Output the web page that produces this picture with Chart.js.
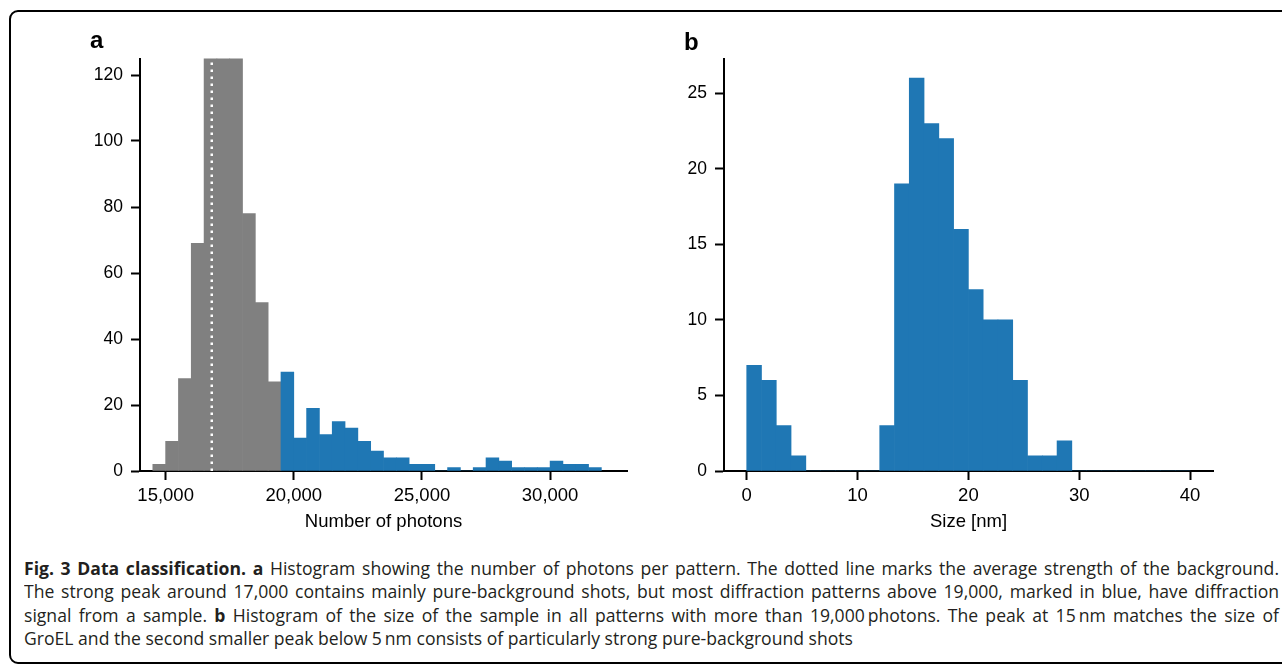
<!DOCTYPE html>
<html>
<head>
<meta charset="utf-8">
<script src="https://cdn.jsdelivr.net/npm/chart.js@4/dist/chart.umd.min.js"></script>
<style>
html,body{margin:0;padding:0;background:#fff;width:1282px;height:668px;overflow:hidden;position:relative;}
#frame{position:absolute;left:9px;top:10px;width:1300px;height:654px;border:2px solid #000;border-radius:9px;box-sizing:border-box;}
canvas.cv{position:absolute;}
.lbl{position:absolute;font:bold 24px "Liberation Sans",Arial,sans-serif;line-height:24px;color:#000;}
.line{position:absolute;left:24px;top:0;white-space:nowrap;font-family:"Open Sans","Noto Sans",sans-serif;color:#231f20;line-height:1;transform-origin:0 0;}
.line b{font-weight:700;}
.probe{display:inline-block;width:0;height:0;vertical-align:baseline;}
</style>
</head>
<body>
<div id="frame"></div>
<canvas id="chartA" class="cv" width="600" height="500" style="left:30px;top:40px;width:600px;height:500px;"></canvas>
<canvas id="chartB" class="cv" width="620" height="500" style="left:630px;top:40px;width:620px;height:500px;"></canvas>
<div class="lbl" style="left:90px;top:28px;">a</div>
<div class="lbl" style="left:684px;top:30px;">b</div>

<div class="line"><b>Fig. 3 Data classification. a</b> Histogram showing the number of photons per pattern. The dotted line marks the average strength of the background.<span class="probe"></span></div>
<div class="line">The strong peak around 17,000 contains mainly pure-background shots, but most diffraction patterns above 19,000, marked in blue, have diffraction<span class="probe"></span></div>
<div class="line">signal from a sample. <b>b</b> Histogram of the size of the sample in all patterns with more than 19,000&#8201;photons. The peak at 15&#8201;nm matches the size of<span class="probe"></span></div>
<div class="line">GroEL and the second smaller peak below 5&#8201;nm consists of particularly strong pure-background shots<span class="probe"></span></div>

<script>
// ---------- Data ----------
// Panel a: histogram of number of photons per pattern (bin left edges, width 500)
const photonBins = [14500, 15000, 15500, 16000, 16500, 17000, 17500, 18000, 18500, 19000,
                    19500, 20000, 20500, 21000, 21500, 22000, 22500, 23000, 23500, 24000,
                    24500, 25000, 25500, 26000, 26500, 27000, 27500, 28000, 28500, 29000,
                    29500, 30000, 30500, 31000, 31500];
const photonCounts = [2, 9, 28, 69, 152, 171, 139, 78, 51, 27,
                      30, 10, 19, 11, 15, 13, 9, 6, 4, 4,
                      2, 2, 0, 1, 0, 1, 4, 3, 1, 1,
                      1, 3, 2, 2, 1];
const photonBinWidth = 500;
const signalFrom = 19500;          // bins from here on are drawn in blue
const backgroundMean = 16800;      // dotted line
const photonTicks = [15000, 20000, 25000, 30000];
const photonCountTicks = [0, 20, 40, 60, 80, 100, 120];

// Panel b: histogram of sample size [nm] (30 bins over 0..40)
const sizeBins = [0, 1.3333, 2.6667, 4, 5.3333, 6.6667, 8, 9.3333, 10.6667, 12,
                  13.3333, 14.6667, 16, 17.3333, 18.6667, 20, 21.3333, 22.6667, 24, 25.3333,
                  26.6667, 28, 29.3333, 30.6667, 32, 33.3333, 34.6667, 36, 37.3333, 38.6667];
const sizeCounts = [7, 6, 3, 1, 0, 0, 0, 0, 0, 3,
                    19, 26, 23, 22, 16, 12, 10, 10, 6, 1,
                    1, 2, 0, 0, 0, 0, 0, 0, 0, 0];
const sizeBinWidth = 40 / 30;
const sizeTicks = [0, 10, 20, 30, 40];
const sizeCountTicks = [0, 5, 10, 15, 20, 25];

// ---------- Styling ----------
const GRAY = '#808080', BLUE = '#1f77b4';
const FONT = '"Liberation Sans", Arial, Helvetica, sans-serif';
Chart.defaults.font.family = FONT;
Chart.defaults.color = '#000';

function axis(opts) {
  return Object.assign({
    offset: false,
    grid: {display: true, drawOnChartArea: false, drawTicks: true, tickLength: 9,
           tickColor: '#000', tickWidth: 2, offset: false},
    border: {display: true, color: '#000', width: 2},
  }, opts);
}

function histChart(id, cfg) {
  return new Chart(document.getElementById(id), {
    type: 'bar',
    data: {datasets: cfg.datasets},
    options: {
      responsive: false, animation: false, devicePixelRatio: 1,
      layout: {padding: cfg.padding},
      plugins: {legend: {display: false}, tooltip: {enabled: false}},
      scales: {
        x: axis({
          type: 'linear', min: cfg.xMin, max: cfg.xMax,
          afterBuildTicks: s => { s.ticks = cfg.xTicks.map(v => ({value: v})); },
          afterFit: s => { s.height = cfg.xHeight; },
          ticks: {font: {size: 18.5}, color: '#000', padding: 5, maxRotation: 0, autoSkip: false,
                  callback: v => Number(v).toLocaleString('en-US')},
          title: {display: true, text: cfg.xTitle, font: {size: 18.5}, color: '#000',
                  padding: {top: 0, bottom: 7}}
        }),
        y: axis({
          type: 'linear', min: 0, max: cfg.yMax,
          afterBuildTicks: s => { s.ticks = cfg.yTicks.map(v => ({value: v})); },
          afterFit: s => { s.width = cfg.yWidth; },
          ticks: {font: {size: 17.5}, color: '#000', padding: 8, autoSkip: false}
        })
      }
    }
  });
}

histChart('chartA', {
  padding: {left: 0, top: 17, right: 3, bottom: 0},
  xMin: 14000, xMax: 33000, yMax: 125, xHeight: 69, yWidth: 110,
  xTicks: photonTicks, yTicks: photonCountTicks, xTitle: 'Number of photons',
  datasets: [
    {type: 'line', order: 0,
     data: [{x: backgroundMean, y: 0}, {x: backgroundMean, y: 125}],
     borderColor: '#fff', borderWidth: 2.5, borderDash: [2.5, 4.5], borderCapStyle: 'butt',
     pointRadius: 0, fill: false},
    {type: 'bar', order: 1,
     data: photonBins.map((b, i) => ({x: b + photonBinWidth / 2, y: photonCounts[i]})),
     backgroundColor: photonBins.map(b => b >= signalFrom ? BLUE : GRAY),
     barPercentage: 1, categoryPercentage: 1, borderWidth: 0}
  ]
});

histChart('chartB', {
  padding: {left: 0, top: 17, right: 37, bottom: 0},
  xMin: -2.05, xMax: 42.07, yMax: 27.3, xHeight: 69, yWidth: 94,
  xTicks: sizeTicks, yTicks: sizeCountTicks, xTitle: 'Size [nm]',
  datasets: [
    {type: 'bar',
     data: sizeBins.map((b, i) => ({x: b + sizeBinWidth / 2, y: sizeCounts[i]})),
     backgroundColor: BLUE, barPercentage: 1, categoryPercentage: 1, borderWidth: 0}
  ]
});

// ---------- Caption layout (justified lines, slightly condensed) ----------
function layoutCaption() {
  const lines = document.querySelectorAll('.line');
  const baselines = [574.5, 598, 621.5, 645];
  const left = 24, right = 1279, lastRight = 853;
  const fs = 18.5;
  lines.forEach(el => { el.style.transform = 'none'; el.style.fontSize = fs + 'px'; el.style.wordSpacing = '0px'; el.style.top = '0px'; });
  const w4 = lines[3].getBoundingClientRect().width;
  const sx = (lastRight - left) / w4;
  lines.forEach((el, i) => {
    if (i < 3) {
      const w = el.getBoundingClientRect().width;
      const n = (el.textContent.match(/ /g) || []).length;
      el.style.wordSpacing = (((right - left) / sx) - w) / n + 'px';
    }
    const p = el.querySelector('.probe');
    const off = p.getBoundingClientRect().top - el.getBoundingClientRect().top;
    el.style.top = (baselines[i] - off) + 'px';
    el.style.transform = 'scaleX(' + sx + ')';
  });
}
layoutCaption();
if (document.fonts && document.fonts.ready) document.fonts.ready.then(layoutCaption);
</script>
</body>
</html>
